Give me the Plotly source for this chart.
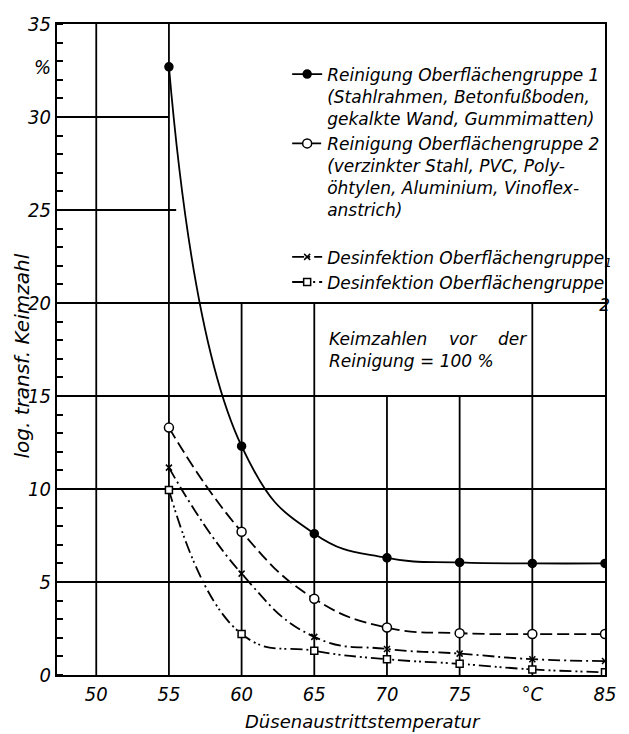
import plotly.graph_objects as go

# ---- data ----
temps = [55, 60, 65, 70, 75, 80, 85]
tick_x_vals = [50, 55, 60, 65, 70, 75, 80, 85]
tick_x_text = ["50", "55", "60", "65", "70", "75", "°C", "85"]
tick_y_vals = [0, 5, 10, 15, 20, 25, 30, 32.7, 35]
tick_y_text = ["0", "5", "10", "15", "20", "25", "30", "%", "35"]

reinigung_1 = [32.7, 12.3, 7.6, 6.3, 6.05, 6.0, 6.0]
reinigung_2 = [13.3, 7.7, 4.1, 2.55, 2.25, 2.2, 2.2]
desinfektion_1 = [11.15, 5.45, 2.05, 1.4, 1.15, 0.85, 0.75]
desinfektion_2 = [9.95, 2.2, 1.3, 0.85, 0.6, 0.3, 0.15]

NB = "\u00a0"
EN = "\u2002"
names = [
    "Reinigung Oberflächengruppe 1<br>(Stahlrahmen, Betonfußboden,<br>gekalkte Wand, Gummimatten)",
    "Reinigung Oberflächengruppe 2<br>(verzinkter Stahl, PVC, Poly-<br>öhtylen, Aluminium, Vinoflex-<br>anstrich)<br>" + NB,
    "Desinfektion Oberflächengruppe<sub>1</sub>",
    "Desinfektion Oberflächengruppe<br>" + EN * 32 + "2",
]

# ---- styling ----
FONT = "DejaVu Sans, sans-serif"
NARROW = "Liberation Sans Narrow, DejaVu Sans Condensed, sans-serif"
XMIN, XMAX, YMIN, YMAX = 47.3, 85, 0, 35

styles = [
    dict(dash="solid", symbol="circle", size=8, fill="black"),
    dict(dash="12px,5px", symbol="circle", size=9, fill="white"),
    dict(dash="12px,4px,2px,4px", symbol="x-thin-open", size=6, fill="black"),
    dict(dash="12px,4px,2px,3px,2px,4px", symbol="square", size=7, fill="white"),
]

fig = go.Figure()
for ys, nm, st in zip([reinigung_1, reinigung_2, desinfektion_1, desinfektion_2], names, styles):
    fig.add_trace(go.Scatter(
        x=temps, y=ys, name=nm, mode="lines+markers",
        line=dict(color="black", width=1.8, dash=st["dash"], shape="spline", smoothing=1.3),
        marker=dict(symbol=st["symbol"], size=st["size"], color=st["fill"],
                    line=dict(color="black", width=1.5)),
    ))

# partial grid as drawn in the reference
vgrid_x = [50, 55, 60, 65, 70, 75, 80]
vgrid_top = [35, 35, 20, 20, 15, 15, 20]
hgrid_y = [5, 10, 15, 20, 25, 30]
hgrid_right = [85, 85, 85, 85, 55.5, 55]
shapes = []
for xv, top in zip(vgrid_x, vgrid_top):
    shapes.append(dict(type="line", xref="x", yref="y", x0=xv, x1=xv, y0=YMIN, y1=top,
                       line=dict(color="black", width=1.8), layer="below"))
for yv, right in zip(hgrid_y, hgrid_right):
    shapes.append(dict(type="line", xref="x", yref="y", x0=XMIN, x1=right, y0=yv, y1=yv,
                       line=dict(color="black", width=1.8), layer="below"))

fig.update_layout(
    width=629, height=734,
    margin=dict(l=57, r=14, t=16, b=59),
    paper_bgcolor="white", plot_bgcolor="white",
    font=dict(family=FONT, size=17, color="black", style="italic"),
    shapes=shapes,
    showlegend=True,
    legend=dict(x=0.42, y=0.95, xanchor="left", yanchor="top",
                bgcolor="rgba(0,0,0,0)", valign="top", tracegroupgap=0,
                font=dict(family=FONT, size=17, color="black", style="italic")),
    annotations=[
        dict(text="Keimzahlen" + NB * 4 + "vor" + NB * 4 + "der<br>Reinigung = 100 %",
             xref="x", yref="y",
             x=65.9, y=17.5, xanchor="left", yanchor="middle", align="left",
             showarrow=False, font=dict(family=FONT, size=17)),
        dict(text="Düsenaustrittstemperatur", xref="paper", yref="paper",
             x=(369 - 57) / 558, y=-0.071, xanchor="center", yanchor="middle",
             showarrow=False, font=dict(family=FONT, size=18)),
        dict(text="log. transf. Keimzahl", xref="paper", yref="paper",
             x=(21 - 57) / 558, y=(675 - 352) / 659, xanchor="center", yanchor="middle",
             textangle=-90, showarrow=False, font=dict(family=FONT, size=20)),
    ],
)
fig.update_xaxes(range=[XMIN, XMAX], tickvals=tick_x_vals, ticktext=tick_x_text,
                 showgrid=False, zeroline=False, showline=True, linecolor="black",
                 linewidth=2, mirror=True, ticks="",
                 tickfont=dict(family=NARROW, size=20))
fig.update_yaxes(range=[YMIN, YMAX], tickvals=tick_y_vals, ticktext=tick_y_text,
                 showgrid=False, zeroline=False, showline=True, linecolor="black",
                 linewidth=2, mirror=True, ticks="",
                 tickfont=dict(family=NARROW, size=20),
                 minor=dict(dtick=1, ticks="inside", ticklen=6, tickwidth=1.5,
                            tickcolor="black", showgrid=False))

fig.write_html("out.html")
